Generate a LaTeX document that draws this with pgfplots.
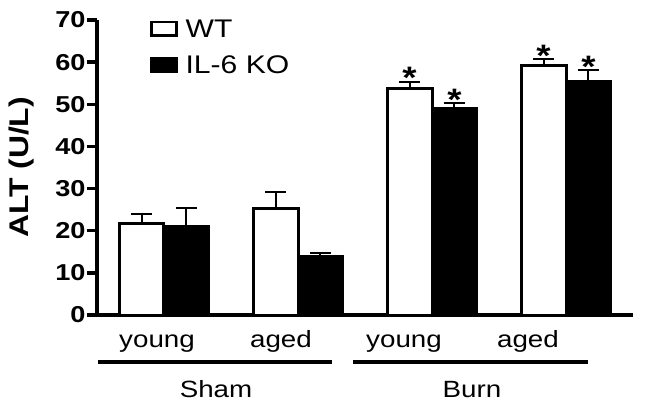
\documentclass[border=0pt]{standalone}
\usepackage{fontspec}
\setmainfont{Liberation Sans}[FakeStretch=1.18]
\usepackage{pgfplots}
\pgfplotsset{compat=1.18}
\begin{document}
\begin{tikzpicture}
\path[use as bounding box] (-97pt,-93pt) rectangle (548pt,315pt);
\begin{axis}[
  at={(0pt,0pt)}, anchor=south west,
  scale only axis, width=536pt, height=295pt,
  xmin=0.5, xmax=4.5, ymin=0, ymax=70,
  ybar=0pt, bar width=0.335,
  axis lines=left,
  axis line style={line width=4pt, -},
  ytick={0,10,...,70}, xtick=\empty,
  major tick style={line width=3.5pt, black},
  major tick length=10pt, tick align=outside,
  yticklabel style={font=\bfseries\fontsize{23}{23}\selectfont, /pgf/number format/assume math mode=true, xshift=2pt},
  ylabel={ALT (U/L)},
  ylabel style={font=\bfseries\fontsize{27}{27}\selectfont, at={(axis description cs:-0.140,0.5)}, anchor=center},
  clip=false,
  legend style={draw=none, fill=none, at={(axis description cs:0.099,1.012)}, anchor=north west,
    font=\fontsize{25.5}{25.5}\selectfont, inner sep=0pt, row sep=11pt, nodes={inner sep=3pt}},
  legend cell align=left,
  legend image code/.code={\draw[#1, line width=2.5pt] (1pt,-6.5pt) rectangle (26pt,7pt); \path[draw=none, fill=none] (32pt,0pt) circle (0.1pt);},
  error bars/error mark=|,
  error bars/error bar style={line width=2pt, black},
  error bars/error mark options={mark size=10.5pt, line width=2pt, black},
]
\addplot[fill=white, draw=black, line width=3pt,
  error bars/.cd, y dir=plus, y explicit]
  coordinates {(1,21.6) +- (0,2.3) (2,25.3) +- (0,3.8) (3,53.8) +- (0,1.6) (4,59.1) +- (0,1.6)};
\addlegendentry{WT}
\addplot[fill=black, draw=black, line width=3pt,
  error bars/.cd, y dir=plus, y explicit]
  coordinates {(1,20.95) +- (0,4.55) (2,14.0) +- (0,0.8) (3,49.0) +- (0,1.2) (4,55.5) +- (0,2.6)};
\addlegendentry{IL-6 KO}
\node[font=\bfseries\fontsize{31}{31}\selectfont, anchor=base, inner sep=0pt] at (axis cs:2.8325,55.4) [yshift=-7pt] {*};
\node[font=\bfseries\fontsize{31}{31}\selectfont, anchor=base, inner sep=0pt] at (axis cs:3.1675,50.2) [yshift=-7pt] {*};
\node[font=\bfseries\fontsize{31}{31}\selectfont, anchor=base, inner sep=0pt] at (axis cs:3.8325,60.7) [yshift=-7pt] {*};
\node[font=\bfseries\fontsize{31}{31}\selectfont, anchor=base, inner sep=0pt] at (axis cs:4.1675,58.1) [yshift=-7pt] {*};
\end{axis}
\begin{scope}[every node/.style={font=\fontsize{23.5}{23.5}\selectfont, anchor=base, inner sep=0pt}]
\node at (60pt,-32pt) {young};
\node at (184pt,-32pt) {aged};
\node at (307pt,-32pt) {young};
\node at (431pt,-32pt) {aged};
\draw[line width=4pt] (1pt,-47pt) -- (235pt,-47pt);
\draw[line width=4pt] (256pt,-47pt) -- (491pt,-47pt);
\node at (119pt,-82pt) {Sham};
\node at (375pt,-82pt) {Burn};
\end{scope}
\end{tikzpicture}
\end{document}
